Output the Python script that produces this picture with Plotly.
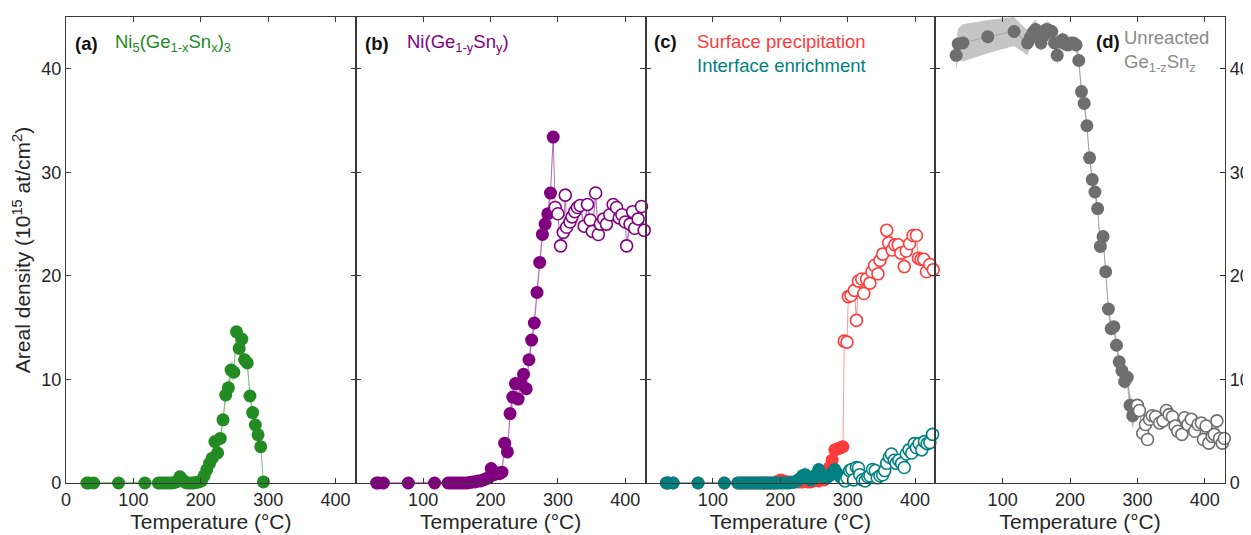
import plotly.graph_objects as go

# ---------------- data ----------------
# shared temperature grid of the filled (reacting) part, deg C
T_closed = [31, 34, 41, 78, 117, 137, 141, 145, 149, 153, 157, 161, 165, 169, 173, 177, 181, 185, 189, 193,
            197, 201, 205, 209, 213, 217, 221, 225, 229, 233, 237, 241, 245, 249, 253, 257, 261, 265, 269, 273,
            277, 281, 285, 289, 293]

# (a) Ni5(Ge1-xSn x)3
a_closed = [0, 0, 0, 0, 0, 0, 0, 0, 0, 0, 0, 0.05, 0.15, 0.6, 0.3, 0.05, 0, 0, 0, 0.05,
            0.1, 0.2, 0.7, 1.3, 1.9, 2.4, 4.0, 2.9, 4.3, 6.1, 8.5, 9.2, 10.9, 10.7, 14.6, 13.0, 13.9, 11.9, 11.6, 8.4,
            6.8, 5.6, 4.65, 3.5, 0.1]
a_err = [0.1, 0.1, 0.1, 0.1, 0.1, 0.1, 0.1, 0.1, 0.1, 0.1, 0.1, 0.1, 0.2, 0.3, 0.2, 0.1, 0.1, 0.1, 0.1, 0.1,
         0.2, 0.2, 0.3, 0.4, 0.5, 0.6, 0.7, 0.6, 0.6, 0.7, 0.8, 0.8, 0.9, 0.8, 0.8, 0.7, 0.7, 0.6, 0.6, 0.6,
         0.5, 0.5, 0.5, 0.4, 0.3]

# (b) Ni(Ge1-ySn y)
b_closed = [0, 0, 0, 0, 0, 0, 0, 0, 0, 0, 0, 0, 0, 0.05, 0.1, 0.1, 0.2, 0.2, 0.3, 0.4,
            0.5, 1.4, 0.8, 1.0, 0.9, 1.05, 3.85, 3.0, 6.7, 8.3, 9.6, 8.1, 9.6, 10.5, 9.1, 11.9, 13.8, 15.45, 18.4, 21.3,
            24.0, 25.0, 26.0, 28.0, 33.4]
b_err = [0.1, 0.1, 0.1, 0.1, 0.1, 0.1, 0.1, 0.1, 0.1, 0.1, 0.1, 0.1, 0.1, 0.1, 0.1, 0.2, 0.2, 0.2, 0.2, 0.3,
         0.4, 0.8, 0.6, 0.5, 0.5, 0.6, 0.7, 0.6, 0.8, 0.9, 0.9, 0.8, 0.8, 0.9, 0.8, 0.8, 0.7, 0.8, 0.8, 0.9,
         0.8, 0.8, 0.8, 0.9, 1.0]
bT_open = [296, 300, 304, 308, 311, 313, 318, 321, 325, 329, 333, 339, 344, 348, 351, 356, 360, 363, 368, 372,
           377, 382, 387, 391, 395, 400, 402, 407, 411, 414, 419, 424, 428]
b_open = [26.6, 26.0, 22.9, 24.2, 27.8, 24.7, 25.2, 25.7, 26.2, 26.6, 26.8, 24.8, 26.9, 25.4, 24.3, 28.0, 24.0, 25.0, 25.5, 25.0,
          25.9, 26.9, 26.6, 25.6, 25.9, 25.2, 22.9, 25.0, 26.2, 24.6, 25.5, 26.7, 24.4]
b_err_open = [0.6, 0.5, 0.6, 0.5, 0.7, 0.5, 0.5, 0.5, 0.5, 0.5, 0.6, 0.6, 0.6, 0.5, 0.6, 0.8, 0.6, 0.5, 0.5, 0.5,
              0.5, 0.6, 0.5, 0.5, 0.5, 0.5, 0.7, 0.5, 0.6, 0.5, 0.5, 0.6, 0.6]

# (c) surface precipitation
r_closed = [0, 0, 0, 0, 0, 0, 0, 0, 0, 0, 0, 0, 0, 0, 0, 0, 0, 0, 0, 0,
            0.2, 0.3, 0.2, 0.1, 0.1, 0.1, 0.1, 0.1, 0.1, 0.1, 0.2, 0.1, 0.1, 0.2, 0.3, 0.2, 0.4, 0.3, 0.6, 1.5,
            2.2, 3.2, 3.3, 3.4, 3.5]
r_err = [0.05, 0.05, 0.05, 0.05, 0.05, 0.05, 0.05, 0.05, 0.05, 0.05, 0.05, 0.05, 0.05, 0.05, 0.05, 0.05, 0.05, 0.05, 0.05, 0.05,
         0.2, 0.2, 0.2, 0.1, 0.1, 0.1, 0.1, 0.1, 0.1, 0.1, 0.2, 0.1, 0.1, 0.2, 0.2, 0.3, 0.3, 0.3, 0.3, 0.4,
         0.5, 0.5, 0.5, 0.5, 0.5]
rT_open = [295, 299, 301, 305, 310, 313, 316, 321, 324, 328, 333, 336, 340, 345, 348, 352, 358, 361, 366, 370,
           375, 379, 384, 387, 392, 397, 402, 405, 409, 413, 417, 422, 427]
r_open = [13.7, 13.6, 18.0, 18.1, 18.6, 15.7, 19.5, 19.7, 18.3, 19.7, 19.3, 20.4, 21.0, 20.2, 21.5, 22.1, 24.4, 23.2, 22.5, 23.0,
          23.0, 22.2, 20.9, 22.4, 23.1, 23.9, 23.9, 21.7, 21.6, 21.6, 20.4, 21.1, 20.6]
r_err_open = [0.3, 0.3, 0.3, 0.3, 0.3, 0.3, 0.3, 0.3, 0.3, 0.3, 0.3, 0.3, 0.3, 0.3, 0.3, 0.3, 0.3, 0.3, 0.3, 0.3,
              0.3, 0.3, 0.3, 0.3, 0.3, 0.3, 0.3, 0.3, 0.3, 0.3, 0.3, 0.3, 0.3]

# (c) interface enrichment
t_closed = [0, 0, 0, 0, 0, 0, 0, 0, 0, 0, 0, 0, 0, 0, 0, 0, 0, 0, 0, 0,
            0, 0, 0, 0, 0, 0.05, 0.1, 0.2, 0.4, 0.7, 0.8, 0.5, 0.3, 0.4, 0.8, 1.3, 0.8, 0.6, 0.5, 0.7,
            1.0, 1.3, 0.9, 0.6, 0.4]
t_err = [0.05, 0.05, 0.05, 0.05, 0.05, 0.05, 0.05, 0.05, 0.05, 0.05, 0.05, 0.05, 0.05, 0.05, 0.05, 0.05, 0.05, 0.05, 0.05, 0.05,
         0.05, 0.05, 0.05, 0.05, 0.1, 0.1, 0.2, 0.3, 0.5, 0.7, 0.8, 0.5, 0.4, 0.5, 0.6, 0.8, 0.6, 0.5, 0.5, 0.6,
         0.7, 0.8, 0.6, 0.5, 0.4]
tT_open = [296, 299, 303, 306, 309, 313, 316, 318, 322, 326, 330, 333, 337, 341, 344, 348, 352, 355, 358, 362,
           365, 369, 372, 376, 380, 384, 387, 391, 395, 399, 402, 406, 410, 414, 418, 422, 426]
t_open = [0.2, 0.5, 1.2, 1.3, 0.3, 1.5, 1.45, 0.8, 0.3, 0.2, 0.6, 0.7, 1.3, 1.2, 0.5, 0.7, 0.8, 1.2, 1.9, 2.5,
          2.8, 2.2, 1.9, 2.2, 1.9, 1.5, 2.8, 3.2, 2.9, 3.8, 3.4, 3.8, 3.2, 4.0, 3.8, 3.9, 4.7]
t_err_open = [0.2, 0.2, 0.2, 0.2, 0.2, 0.2, 0.2, 0.2, 0.2, 0.2, 0.2, 0.2, 0.2, 0.2, 0.2, 0.2, 0.2, 0.2, 0.2, 0.2,
              0.2, 0.2, 0.2, 0.2, 0.2, 0.2, 0.2, 0.2, 0.2, 0.2, 0.2, 0.2, 0.2, 0.2, 0.2, 0.2, 0.2]

# (d) unreacted Ge1-zSn z
g_closed = [41.3, 42.4, 42.5, 43.1, 43.6, 42.5, 43.0, 43.5, 43.8, 43.3, 42.5, 43.2, 43.8, 43.7, 43.6, 42.5, 41.3, 42.6, 42.8, 42.4,
            42.3, 42.5, 42.5, 42.3, 40.8, 37.8, 36.65, 34.5, 31.4, 29.3, 28.1, 26.5, 22.85, 23.8, 20.4, 16.8, 14.9, 15.1, 13.3, 11.7,
            10.85, 9.8, 10.2, 7.5, 6.5]
g_err = [1.5, 1.5, 1.8, 1.6, 1.4, 1.2, 1.0, 1.0, 0.9, 0.8, 0.8, 0.8, 0.8, 0.8, 0.7, 0.7, 0.9, 0.8, 0.7, 0.6,
         0.6, 0.6, 0.6, 0.6, 0.6, 0.6, 0.5, 0.5, 0.5, 0.5, 0.5, 0.5, 0.6, 0.6, 0.6, 0.6, 0.7, 0.6, 0.6, 0.6,
         0.7, 0.8, 1.0, 1.2, 1.3]
gT_open = [300, 303, 308, 312, 315, 318, 322, 327, 333, 338, 343, 347, 352, 356, 360, 366, 370, 375, 380, 385,
           390, 395, 398, 402, 406, 411, 414, 418, 422, 426, 429]
g_open = [7.5, 7.0, 4.8, 5.65, 4.2, 6.15, 6.5, 6.4, 5.8, 6.0, 7.0, 6.6, 6.4, 5.5, 5.0, 4.7, 6.3, 5.65, 6.15, 5.0,
          5.65, 5.8, 4.2, 5.5, 3.85, 4.5, 4.7, 6.0, 4.3, 3.85, 4.3]
g_err_open = [0.3, 0.3, 0.3, 0.3, 0.3, 0.3, 0.3, 0.3, 0.3, 0.3, 0.3, 0.3, 0.3, 0.3, 0.3, 0.3, 0.3, 0.3, 0.3, 0.3,
              0.3, 0.3, 0.3, 0.3, 0.3, 0.3, 0.3, 0.3, 0.3, 0.3, 0.3]

x_ticks_first = [0, 100, 200, 300, 400]
x_ticks_other = [100, 200, 300, 400]
y_ticks = [0, 10, 20, 30, 40]

# ---------------- figure ----------------
FONT = "Liberation Sans, Arial, sans-serif"
fig = go.Figure()


def add_series(n, Tc, yc, ec, To, yo, eo, color, line_rgba, band_rgba):
    xa = "x" if n == 1 else f"x{n}"
    ya = "y" if n == 1 else f"y{n}"
    T = list(Tc) + list(To)
    y = list(yc) + list(yo)
    e = list(ec) + list(eo)
    up = [v + d for v, d in zip(y, e)]
    lo = [v - d for v, d in zip(y, e)]
    fig.add_trace(go.Scatter(x=T + T[::-1], y=up + lo[::-1], fill="toself", fillcolor=band_rgba,
                             line=dict(width=0), mode="lines", xaxis=xa, yaxis=ya,
                             hoverinfo="skip", showlegend=False))
    fig.add_trace(go.Scatter(x=T, y=y, mode="lines", line=dict(color=line_rgba, width=1),
                             xaxis=xa, yaxis=ya, hoverinfo="skip", showlegend=False))
    fig.add_trace(go.Scatter(x=Tc, y=yc, mode="markers", cliponaxis=False,
                             marker=dict(size=13, color=color, line=dict(width=0)),
                             xaxis=xa, yaxis=ya, showlegend=False))
    if To:
        fig.add_trace(go.Scatter(x=To, y=yo, mode="markers", cliponaxis=False,
                                 marker=dict(size=12, color="white", line=dict(color=color, width=1.6)),
                                 xaxis=xa, yaxis=ya, showlegend=False))


GREEN = "#228B22"
PURPLE = "#800080"
RED = "#FF3B3B"
TEAL = "#008080"
GRAY = "#6E6E6E"

add_series(1, T_closed, a_closed, a_err, [], [], [], GREEN, "rgba(34,139,34,0.45)", "rgba(34,139,34,0.25)")
add_series(2, T_closed, b_closed, b_err, bT_open, b_open, b_err_open, PURPLE, "rgba(128,0,128,0.45)", "rgba(128,0,128,0.25)")
add_series(3, T_closed, r_closed, r_err, rT_open, r_open, r_err_open, RED, "rgba(255,59,59,0.5)", "rgba(255,59,59,0.25)")
add_series(3, T_closed, t_closed, t_err, tT_open, t_open, t_err_open, TEAL, "rgba(0,128,128,0.45)", "rgba(0,128,128,0.3)")
add_series(4, T_closed, g_closed, g_err, gT_open, g_open, g_err_open, GRAY, "rgba(150,150,150,0.7)", "rgba(150,150,150,0.55)")

TXT = "#262626"
AX = dict(showline=True, linecolor="#3a3a3a", linewidth=1.2, mirror="ticks", ticks="inside",
          ticklen=5, tickwidth=1, tickcolor="#3a3a3a", showgrid=False, zeroline=False,
          tickfont=dict(size=18, color=TXT, family=FONT))

domains = [[0, 0.25], [0.25, 0.5], [0.5, 0.75], [0.75, 1.0]]
# the page adds an 8 px body margin, so the figure is 8 px smaller each way
layout = dict(
    width=1243, height=527,
    margin=dict(l=58, r=25.5, t=8.7, b=51.7),
    paper_bgcolor="white", plot_bgcolor="white",
    font=dict(family=FONT, size=18, color=TXT),
    showlegend=False,
)
for i in range(4):
    n = i + 1
    xk = "xaxis" if n == 1 else f"xaxis{n}"
    yk = "yaxis" if n == 1 else f"yaxis{n}"
    layout[xk] = dict(AX, domain=domains[i], range=[0, 430],
                      tickvals=x_ticks_first if n == 1 else x_ticks_other,
                      anchor="y" if n == 1 else f"y{n}",
                      title=dict(text="Temperature (°C)", font=dict(size=21, color=TXT), standoff=2),
                      automargin=False)
    ydict = dict(AX, range=[0, 45], tickvals=y_ticks, anchor="x" if n == 1 else f"x{n}",
                 automargin=False)
    if n == 1:
        ydict["title"] = dict(text="Areal density (10<sup>15</sup> at/cm<sup>2</sup>)",
                              font=dict(size=21, color=TXT), standoff=4)
    elif n == 4:
        ydict["side"] = "right"
    else:
        ydict["showticklabels"] = False
    layout[yk] = ydict

fig.update_layout(**layout)

ann = []


def label(n, x, y, text, color):
    xr = "x domain" if n == 1 else f"x{n} domain"
    yr = "y domain" if n == 1 else f"y{n} domain"
    ann.append(dict(xref=xr, yref=yr, x=x, y=y, text=text, showarrow=False, xanchor="left",
                    yanchor="middle", align="left",
                    font=dict(size=18.5, color=color, family=FONT)))


label(1, 0.024, 0.944, "<b>(a)</b>", "#111111")
label(1, 0.162, 0.944, "Ni<sub>5</sub>(Ge<sub>1-x</sub>Sn<sub>x</sub>)<sub>3</sub>", GREEN)
label(2, 0.024, 0.944, "<b>(b)</b>", "#111111")
label(2, 0.170, 0.944, "Ni(Ge<sub>1-y</sub>Sn<sub>y</sub>)", PURPLE)
label(3, 0.024, 0.948, "<b>(c)</b>", "#111111")
label(3, 0.170, 0.948, "Surface precipitation", RED)
label(3, 0.170, 0.896, "Interface enrichment", TEAL)
label(4, 0.548, 0.948, "<b>(d)</b>", "#111111")
label(4, 0.643, 0.926, "Unreacted<br>Ge<sub>1-z</sub>Sn<sub>z</sub>", "#8A8A8A")
fig.update_layout(annotations=ann)

fig.write_html("out.html")
